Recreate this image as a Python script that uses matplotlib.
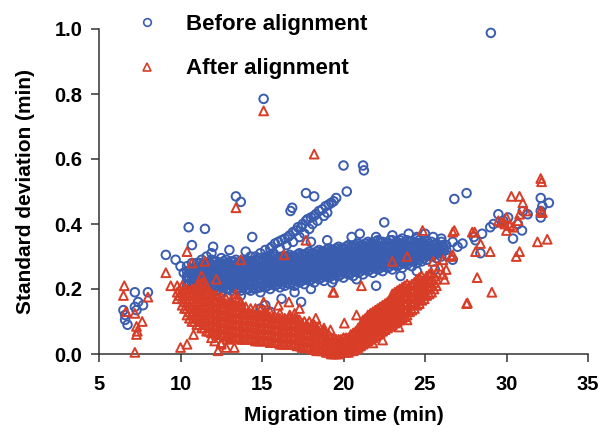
import matplotlib
matplotlib.use('Agg')
import matplotlib.pyplot as plt
from matplotlib.lines import Line2D

plt.rcParams['font.family'] = ['Liberation Sans', 'DejaVu Sans']
plt.rcParams['font.weight'] = 'bold'

blue = '#3a5db0'
red = '#d83d27'

# ---- before alignment: dense band, read column by column ----
before_band_x = [10.4, 10.7, 11.0, 11.3, 11.6, 11.9, 12.2, 12.5, 12.8, 13.1, 13.4, 13.7,
                 14.0, 14.3, 14.6, 14.9, 15.2, 15.5, 15.8, 16.1, 16.4, 16.7, 17.0, 17.3,
                 17.6, 17.9, 18.2, 18.5, 18.8, 19.1, 19.4, 19.7, 20.0, 20.3, 20.6, 20.9,
                 21.2, 21.5, 21.8, 22.1, 22.4, 22.7, 23.0, 23.3, 23.6, 23.9, 24.2, 24.5,
                 24.8, 25.1, 25.4, 25.7, 26.0, 26.3]
before_band_y = [
    [0.21, 0.225, 0.24, 0.255, 0.27],
    [0.20, 0.215, 0.23, 0.245, 0.26, 0.28],
    [0.19, 0.205, 0.22, 0.235, 0.25, 0.265, 0.28],
    [0.195, 0.21, 0.225, 0.24, 0.255, 0.27, 0.29],
    [0.19, 0.205, 0.22, 0.235, 0.25, 0.265, 0.28, 0.30],
    [0.20, 0.215, 0.23, 0.245, 0.26, 0.275, 0.29],
    [0.195, 0.21, 0.225, 0.24, 0.255, 0.27, 0.285],
    [0.19, 0.205, 0.22, 0.235, 0.25, 0.265, 0.28, 0.295],
    [0.20, 0.215, 0.23, 0.245, 0.26, 0.275, 0.29],
    [0.195, 0.21, 0.225, 0.24, 0.255, 0.27, 0.285],
    [0.20, 0.215, 0.23, 0.245, 0.26, 0.275, 0.29],
    [0.195, 0.21, 0.225, 0.24, 0.255, 0.27, 0.285],
    [0.20, 0.215, 0.23, 0.245, 0.26, 0.275, 0.29],
    [0.195, 0.21, 0.225, 0.24, 0.255, 0.27, 0.285, 0.30],
    [0.20, 0.215, 0.23, 0.245, 0.26, 0.275, 0.29],
    [0.19, 0.205, 0.22, 0.235, 0.25, 0.265, 0.28, 0.295],
    [0.205, 0.22, 0.235, 0.25, 0.265, 0.28, 0.295],
    [0.20, 0.215, 0.23, 0.245, 0.26, 0.275, 0.29],
    [0.21, 0.225, 0.24, 0.255, 0.27, 0.285, 0.30],
    [0.205, 0.22, 0.235, 0.25, 0.265, 0.28, 0.295],
    [0.21, 0.225, 0.24, 0.255, 0.27, 0.285, 0.30],
    [0.215, 0.23, 0.245, 0.26, 0.275, 0.29, 0.305],
    [0.21, 0.225, 0.24, 0.255, 0.27, 0.285, 0.30],
    [0.22, 0.235, 0.25, 0.265, 0.28, 0.295, 0.31],
    [0.215, 0.23, 0.245, 0.26, 0.275, 0.29, 0.305],
    [0.225, 0.24, 0.255, 0.27, 0.285, 0.30, 0.315],
    [0.22, 0.235, 0.25, 0.265, 0.28, 0.295, 0.31],
    [0.23, 0.245, 0.26, 0.275, 0.29, 0.305, 0.32],
    [0.225, 0.24, 0.255, 0.27, 0.285, 0.30, 0.315],
    [0.235, 0.25, 0.265, 0.28, 0.295, 0.31, 0.325],
    [0.23, 0.245, 0.26, 0.275, 0.29, 0.305, 0.32],
    [0.24, 0.255, 0.27, 0.285, 0.30, 0.315, 0.33],
    [0.235, 0.25, 0.265, 0.28, 0.295, 0.31, 0.325],
    [0.245, 0.26, 0.275, 0.29, 0.305, 0.32, 0.335],
    [0.24, 0.255, 0.27, 0.285, 0.30, 0.315, 0.33],
    [0.25, 0.265, 0.28, 0.295, 0.31, 0.325, 0.34],
    [0.245, 0.26, 0.275, 0.29, 0.305, 0.32, 0.335],
    [0.255, 0.27, 0.285, 0.30, 0.315, 0.33, 0.345],
    [0.25, 0.265, 0.28, 0.295, 0.31, 0.325, 0.34],
    [0.26, 0.275, 0.29, 0.305, 0.32, 0.335, 0.35],
    [0.255, 0.27, 0.285, 0.30, 0.315, 0.33, 0.345],
    [0.265, 0.28, 0.295, 0.31, 0.325, 0.34],
    [0.26, 0.275, 0.29, 0.305, 0.32, 0.335, 0.35],
    [0.27, 0.285, 0.30, 0.315, 0.33, 0.345],
    [0.265, 0.28, 0.295, 0.31, 0.325, 0.34, 0.355],
    [0.275, 0.29, 0.305, 0.32, 0.335, 0.35],
    [0.27, 0.285, 0.30, 0.315, 0.33, 0.345],
    [0.28, 0.295, 0.31, 0.325, 0.34, 0.355],
    [0.285, 0.30, 0.315, 0.33, 0.345],
    [0.29, 0.305, 0.32, 0.335, 0.35],
    [0.30, 0.315, 0.33, 0.345],
    [0.295, 0.31, 0.325, 0.34],
    [0.30, 0.315, 0.33, 0.345],
    [0.305, 0.32, 0.335],
]

# in-between columns of the same band
before_fill_x = [10.55, 10.85, 11.15, 11.45, 11.75, 12.05, 12.35, 12.65, 12.95, 13.25, 13.55,
                 13.85, 14.15, 14.45, 14.75, 15.05, 15.35, 15.65, 15.95, 16.25, 16.55, 16.85,
                 17.15, 17.45, 17.75, 18.05, 18.35, 18.65, 18.95, 19.25, 19.55, 19.85, 20.15,
                 20.45, 20.75, 21.05, 21.35, 21.65, 21.95, 22.25, 22.55, 22.85, 23.15, 23.45,
                 23.75, 24.05, 24.35, 24.65, 24.95, 25.25, 25.55, 25.85]
before_fill_y = [
    [0.215, 0.235, 0.255],
    [0.205, 0.225, 0.245, 0.265],
    [0.20, 0.22, 0.24, 0.26, 0.28],
    [0.20, 0.22, 0.24, 0.26, 0.28],
    [0.20, 0.22, 0.24, 0.26, 0.28],
    [0.205, 0.225, 0.245, 0.265, 0.285],
    [0.20, 0.22, 0.24, 0.26, 0.28],
    [0.205, 0.225, 0.245, 0.265, 0.285],
    [0.20, 0.22, 0.24, 0.26, 0.28],
    [0.205, 0.225, 0.245, 0.265, 0.285],
    [0.20, 0.22, 0.24, 0.26, 0.28],
    [0.205, 0.225, 0.245, 0.265, 0.285],
    [0.20, 0.22, 0.24, 0.26, 0.28],
    [0.205, 0.225, 0.245, 0.265, 0.285],
    [0.205, 0.225, 0.245, 0.265, 0.285],
    [0.21, 0.23, 0.25, 0.27, 0.29],
    [0.21, 0.23, 0.25, 0.27, 0.29],
    [0.215, 0.235, 0.255, 0.275, 0.295],
    [0.215, 0.235, 0.255, 0.275, 0.295],
    [0.215, 0.235, 0.255, 0.275, 0.295],
    [0.22, 0.24, 0.26, 0.28, 0.30],
    [0.22, 0.24, 0.26, 0.28, 0.30],
    [0.225, 0.245, 0.265, 0.285, 0.305],
    [0.225, 0.245, 0.265, 0.285, 0.305],
    [0.23, 0.25, 0.27, 0.29, 0.31],
    [0.23, 0.25, 0.27, 0.29, 0.31],
    [0.235, 0.255, 0.275, 0.295, 0.315],
    [0.235, 0.255, 0.275, 0.295, 0.315],
    [0.24, 0.26, 0.28, 0.30, 0.32],
    [0.24, 0.26, 0.28, 0.30, 0.32],
    [0.245, 0.265, 0.285, 0.305, 0.325],
    [0.245, 0.265, 0.285, 0.305, 0.325],
    [0.25, 0.27, 0.29, 0.31, 0.33],
    [0.25, 0.27, 0.29, 0.31, 0.33],
    [0.255, 0.275, 0.295, 0.315, 0.335],
    [0.255, 0.275, 0.295, 0.315, 0.335],
    [0.26, 0.28, 0.30, 0.32, 0.34],
    [0.26, 0.28, 0.30, 0.32, 0.34],
    [0.265, 0.285, 0.305, 0.325, 0.345],
    [0.265, 0.285, 0.305, 0.325, 0.345],
    [0.27, 0.29, 0.31, 0.33],
    [0.27, 0.29, 0.31, 0.33, 0.35],
    [0.275, 0.295, 0.315, 0.335],
    [0.275, 0.295, 0.315, 0.335, 0.35],
    [0.28, 0.30, 0.32, 0.34],
    [0.285, 0.305, 0.325, 0.345],
    [0.285, 0.305, 0.325, 0.345],
    [0.29, 0.31, 0.33, 0.35],
    [0.295, 0.315, 0.335],
    [0.305, 0.325, 0.34],
    [0.305, 0.32, 0.335],
    [0.31, 0.325],
]

# the steep arm between 15 and 19.5 min
before_arm_x = [14.6, 14.9, 15.2, 15.5, 15.6, 15.8, 16.0, 16.2, 16.4, 16.6, 16.7, 16.9, 17.1, 17.2,
                17.4, 17.5, 17.7, 17.8, 18.0, 18.2, 18.3, 18.5, 18.7, 18.9, 19.1, 19.25, 19.4, 19.55,
                15.3, 15.7, 16.1, 16.5, 16.9, 17.3, 17.6, 17.9, 18.1, 18.4, 18.8, 19.0]
before_arm_y = [0.30, 0.31, 0.32, 0.325, 0.33, 0.34, 0.345, 0.35, 0.355, 0.36, 0.365, 0.375, 0.38, 0.39,
                0.39, 0.40, 0.41, 0.415, 0.42, 0.425, 0.43, 0.44, 0.445, 0.455, 0.46, 0.465, 0.47, 0.48,
                0.30, 0.31, 0.325, 0.335, 0.345, 0.36, 0.37, 0.385, 0.40, 0.41, 0.425, 0.435]

# scattered points
before_x = [29.04, 15.1, 20.0, 21.2, 21.25, 20.2, 17.7, 18.2, 13.4, 13.7, 26.8, 27.55, 22.5, 21.0,
            11.5, 10.5, 10.7, 9.1, 14.4, 11.9, 9.7, 10.0, 10.2, 10.4, 10.8, 11.6, 16.85, 16.75,
            20.8, 19.3,
            7.2, 8.0, 7.4, 7.7, 6.5, 6.6, 6.75, 7.2, 7.3, 6.6,
            29.5, 29.8, 30.1, 31.3, 30.7, 30.95, 30.4, 29.0, 28.5, 28.1, 32.1, 32.6, 32.1, 32.1,
            26.7, 26.1, 26.15, 26.7, 28.4, 27.0, 27.3, 28.0, 29.2, 31.0, 32.2,
            14.9, 15.5, 15.2, 16.2, 17.4, 18.0, 22.0, 13.7, 12.9, 23.5, 24.5, 25.6, 17.0,
            12.0, 13.0, 14.0, 20.5, 22.0, 23.0, 24.0, 25.0, 24.5, 25.5, 26.0, 18.0, 19.0]
before_y = [0.988, 0.785, 0.58, 0.58, 0.565, 0.50, 0.495, 0.485, 0.485, 0.468, 0.477, 0.495, 0.405, 0.37,
            0.385, 0.39, 0.335, 0.305, 0.36, 0.31, 0.29, 0.27, 0.25, 0.235, 0.21, 0.27, 0.45, 0.44,
            0.23, 0.22,
            0.19, 0.19, 0.16, 0.15, 0.135, 0.105, 0.09, 0.145, 0.135, 0.12,
            0.43, 0.41, 0.42, 0.43, 0.40, 0.38, 0.355, 0.39, 0.37, 0.35, 0.48, 0.465, 0.42, 0.44,
            0.345, 0.335, 0.32, 0.29, 0.31, 0.33, 0.34, 0.36, 0.40, 0.44, 0.455,
            0.14, 0.13, 0.15, 0.17, 0.16, 0.20, 0.21, 0.18, 0.175, 0.24, 0.255, 0.26, 0.19,
            0.33, 0.32, 0.315, 0.36, 0.36, 0.365, 0.37, 0.37, 0.36, 0.36, 0.355, 0.345, 0.35]

# ---- after alignment: dense V-shaped band ----
after_band_x = [9.8, 10.1, 10.4, 10.7, 11.0, 11.3, 11.6, 11.9, 12.2, 12.5, 12.8, 13.1, 13.4, 13.7,
                14.0, 14.3, 14.6, 14.9, 15.2, 15.5, 15.8, 16.1, 16.4, 16.7, 17.0, 17.3, 17.6, 17.9,
                18.2, 18.5, 18.8, 19.1, 19.4, 19.7, 20.0, 20.3, 20.6, 20.9, 21.2, 21.5, 21.8, 22.1,
                22.4, 22.7, 23.0, 23.3, 23.6, 23.9, 24.2, 24.5, 24.8, 25.1, 25.4, 25.7]
after_band_y = [
    [0.17, 0.19, 0.21],
    [0.15, 0.17, 0.19, 0.21],
    [0.12, 0.14, 0.16, 0.18, 0.20],
    [0.10, 0.12, 0.14, 0.16, 0.18, 0.20],
    [0.09, 0.11, 0.13, 0.15, 0.17, 0.19, 0.21],
    [0.08, 0.10, 0.12, 0.14, 0.16, 0.18, 0.20, 0.22, 0.24],
    [0.07, 0.09, 0.11, 0.13, 0.15, 0.17, 0.19, 0.21],
    [0.065, 0.085, 0.105, 0.125, 0.145, 0.165, 0.185],
    [0.06, 0.08, 0.10, 0.12, 0.14, 0.16, 0.18],
    [0.06, 0.08, 0.10, 0.12, 0.14, 0.16, 0.175],
    [0.055, 0.075, 0.095, 0.115, 0.135, 0.155, 0.17],
    [0.05, 0.07, 0.09, 0.11, 0.13, 0.15, 0.165],
    [0.05, 0.07, 0.09, 0.11, 0.13, 0.15, 0.17, 0.185],
    [0.045, 0.065, 0.085, 0.105, 0.125, 0.145, 0.16],
    [0.045, 0.065, 0.085, 0.105, 0.125, 0.145],
    [0.045, 0.065, 0.085, 0.105, 0.125, 0.14],
    [0.04, 0.06, 0.08, 0.10, 0.12, 0.14],
    [0.04, 0.06, 0.08, 0.10, 0.12, 0.135],
    [0.04, 0.06, 0.08, 0.10, 0.12, 0.13],
    [0.035, 0.055, 0.075, 0.095, 0.115, 0.13],
    [0.035, 0.055, 0.075, 0.095, 0.115],
    [0.03, 0.05, 0.07, 0.09, 0.11, 0.125],
    [0.03, 0.05, 0.07, 0.09, 0.11],
    [0.03, 0.05, 0.07, 0.09, 0.11, 0.12],
    [0.03, 0.05, 0.07, 0.09, 0.11, 0.125],
    [0.025, 0.045, 0.065, 0.085, 0.105],
    [0.02, 0.04, 0.06, 0.08, 0.10],
    [0.02, 0.04, 0.06, 0.08, 0.10],
    [0.015, 0.035, 0.055, 0.075, 0.09],
    [0.01, 0.03, 0.05, 0.07, 0.085],
    [0.01, 0.025, 0.045, 0.065, 0.08],
    [0.005, 0.02, 0.04, 0.06],
    [0.0, 0.015, 0.035, 0.05],
    [0.0, 0.015, 0.03, 0.045],
    [0.005, 0.02, 0.035, 0.05],
    [0.005, 0.02, 0.035, 0.05],
    [0.01, 0.025, 0.045, 0.065],
    [0.02, 0.04, 0.06, 0.08],
    [0.03, 0.05, 0.07, 0.09, 0.105],
    [0.04, 0.06, 0.08, 0.10, 0.12],
    [0.05, 0.07, 0.09, 0.11, 0.13],
    [0.06, 0.08, 0.10, 0.12, 0.14],
    [0.07, 0.09, 0.11, 0.13, 0.15],
    [0.08, 0.10, 0.12, 0.14, 0.16],
    [0.09, 0.11, 0.13, 0.15, 0.17, 0.185],
    [0.10, 0.12, 0.14, 0.16, 0.18, 0.195],
    [0.11, 0.13, 0.15, 0.17, 0.19, 0.205],
    [0.12, 0.14, 0.16, 0.18, 0.20, 0.215],
    [0.135, 0.155, 0.175, 0.195, 0.215],
    [0.15, 0.17, 0.19, 0.21, 0.23],
    [0.165, 0.185, 0.205, 0.225, 0.24],
    [0.18, 0.20, 0.22, 0.24],
    [0.19, 0.21, 0.23, 0.25],
    [0.21, 0.23, 0.25],
]

after_fill_x = [9.95, 10.25, 10.55, 10.85, 11.15, 11.45, 11.75, 12.05, 12.35, 12.65, 12.95, 13.25,
                13.55, 13.85, 14.15, 14.45, 14.75, 15.05, 15.35, 15.65, 15.95, 16.25, 16.55, 16.85,
                17.15, 17.45, 17.75, 18.05, 18.35, 18.65, 18.95, 19.25, 19.55, 19.85, 20.15, 20.45,
                20.75, 21.05, 21.35, 21.65, 21.95, 22.25, 22.55, 22.85, 23.15, 23.45, 23.75, 24.05,
                24.35, 24.65, 24.95, 25.25, 25.55]
after_fill_y = [
    [0.18, 0.20],
    [0.14, 0.16, 0.18, 0.20],
    [0.11, 0.13, 0.15, 0.17, 0.19],
    [0.10, 0.12, 0.14, 0.16, 0.18, 0.20],
    [0.09, 0.11, 0.13, 0.15, 0.17, 0.19, 0.21],
    [0.08, 0.10, 0.12, 0.14, 0.16, 0.18, 0.20, 0.22],
    [0.07, 0.09, 0.11, 0.13, 0.15, 0.17, 0.19],
    [0.065, 0.085, 0.105, 0.125, 0.145, 0.165, 0.18],
    [0.06, 0.08, 0.10, 0.12, 0.14, 0.16],
    [0.06, 0.08, 0.10, 0.12, 0.14, 0.16],
    [0.055, 0.075, 0.095, 0.115, 0.135, 0.155],
    [0.05, 0.07, 0.09, 0.11, 0.13, 0.15],
    [0.05, 0.07, 0.09, 0.11, 0.13, 0.15, 0.17],
    [0.045, 0.065, 0.085, 0.105, 0.125, 0.14],
    [0.045, 0.065, 0.085, 0.105, 0.125],
    [0.045, 0.065, 0.085, 0.105, 0.125],
    [0.04, 0.06, 0.08, 0.10, 0.12],
    [0.04, 0.06, 0.08, 0.10, 0.12],
    [0.04, 0.06, 0.08, 0.10, 0.115],
    [0.035, 0.055, 0.075, 0.095, 0.11],
    [0.035, 0.055, 0.075, 0.095, 0.11],
    [0.03, 0.05, 0.07, 0.09, 0.105],
    [0.03, 0.05, 0.07, 0.09, 0.105],
    [0.03, 0.05, 0.07, 0.09, 0.11],
    [0.025, 0.045, 0.065, 0.085, 0.105],
    [0.02, 0.04, 0.06, 0.08, 0.095],
    [0.02, 0.04, 0.06, 0.08, 0.09],
    [0.015, 0.035, 0.055, 0.075, 0.09],
    [0.01, 0.03, 0.05, 0.07, 0.08],
    [0.01, 0.025, 0.045, 0.065],
    [0.005, 0.02, 0.04, 0.055],
    [0.0, 0.015, 0.035, 0.05],
    [0.0, 0.015, 0.03, 0.045],
    [0.005, 0.02, 0.035, 0.045],
    [0.005, 0.02, 0.035, 0.05],
    [0.01, 0.025, 0.045, 0.06],
    [0.015, 0.035, 0.055, 0.07],
    [0.025, 0.045, 0.065, 0.085],
    [0.035, 0.055, 0.075, 0.095, 0.11],
    [0.045, 0.065, 0.085, 0.105, 0.125],
    [0.055, 0.075, 0.095, 0.115, 0.135],
    [0.065, 0.085, 0.105, 0.125, 0.145],
    [0.075, 0.095, 0.115, 0.135, 0.155],
    [0.085, 0.105, 0.125, 0.145, 0.165],
    [0.095, 0.115, 0.135, 0.155, 0.175, 0.19],
    [0.105, 0.125, 0.145, 0.165, 0.185, 0.20],
    [0.115, 0.135, 0.155, 0.175, 0.195, 0.21],
    [0.13, 0.15, 0.17, 0.19, 0.21],
    [0.14, 0.16, 0.18, 0.20, 0.22],
    [0.155, 0.175, 0.195, 0.215, 0.235],
    [0.17, 0.19, 0.21, 0.23],
    [0.185, 0.205, 0.225, 0.245],
    [0.20, 0.22, 0.24],
]

after_x = [6.55, 6.5, 6.65, 7.2, 7.3, 7.3, 7.35, 7.65, 8.0, 7.2, 9.1, 9.4, 10.4, 10.7, 11.5,
           13.4, 15.1, 18.2, 17.7, 16.35, 13.7, 12.2, 15.1, 16.0, 16.65, 17.3, 18.3, 19.4, 20.8,
           20.05, 18.8, 19.2, 21.1, 19.35, 23.0, 23.9, 24.85, 26.8, 26.6, 27.55, 23.9, 23.4, 21.8,
           22.4, 10.0, 10.4, 12.3, 12.5, 10.8, 12.5, 12.8, 13.3, 12.5, 11.9, 12.1, 13.0,
           26.7, 27.9, 28.2, 27.6, 29.1, 30.3, 30.8, 31.0, 32.1, 32.15, 32.1, 32.2, 30.0, 29.7,
           30.0, 30.8, 30.7, 29.5, 31.9, 32.5, 30.8, 30.6, 28.05, 28.4, 29.0, 28.1, 26.7, 26.1,
           26.1, 26.2, 29.9, 30.2, 30.4, 31.2, 25.9, 26.3, 25.5]
after_y = [0.21, 0.18, 0.13, 0.125, 0.085, 0.06, 0.07, 0.10, 0.175, 0.005, 0.25, 0.21, 0.315, 0.28, 0.285,
           0.45, 0.748, 0.615, 0.35, 0.305, 0.29, 0.23, 0.16, 0.15, 0.16, 0.14, 0.11, 0.19, 0.12,
           0.095, 0.074, 0.074, 0.21, 0.19, 0.285, 0.30, 0.38, 0.38, 0.30, 0.155, 0.105, 0.083, 0.034,
           0.043, 0.02, 0.03, 0.01, 0.03, 0.06, 0.035, 0.02, 0.02, 0.06, 0.05, 0.04, 0.045,
           0.375, 0.375, 0.235, 0.157, 0.19, 0.485, 0.485, 0.465, 0.54, 0.53, 0.44, 0.435, 0.42, 0.405,
           0.38, 0.43, 0.41, 0.41, 0.345, 0.353, 0.315, 0.30, 0.375, 0.34, 0.315, 0.315, 0.305, 0.29,
           0.245, 0.23, 0.40, 0.395, 0.39, 0.44, 0.27, 0.26, 0.285]


def flatten(cols, vals):
    xs, ys = [], []
    for x, col in zip(cols, vals):
        xs += [x] * len(col)
        ys += col
    return xs, ys


bx, by = flatten(before_band_x, before_band_y)
fx, fy = flatten(before_fill_x, before_fill_y)
bx += fx + before_arm_x + before_x
by += fy + before_arm_y + before_y
rx, ry = flatten(after_band_x, after_band_y)
fx, fy = flatten(after_fill_x, after_fill_y)
rx += fx + after_x
ry += fy + after_y

fig = plt.figure(figsize=(6.01, 4.33), dpi=100)
ax = fig.add_axes([99 / 601, 79 / 433, 489 / 601, 325 / 433])

ax.scatter(bx, by, s=38, marker='o', facecolors='none', edgecolors=blue,
           linewidths=1.4, clip_on=False, zorder=2)
ax.scatter(rx, ry, s=40, marker='^', facecolors='none', edgecolors=red,
           linewidths=1.4, clip_on=False, zorder=3)

ax.set_xlim(5, 35)
ax.set_ylim(0, 1.0)
ax.set_xticks([5, 10, 15, 20, 25, 30, 35])
ax.set_yticks([0.0, 0.2, 0.4, 0.6, 0.8, 1.0])
ax.set_yticklabels(['0.0', '0.2', '0.4', '0.6', '0.8', '1.0'])
for s in ['top', 'right']:
    ax.spines[s].set_visible(False)
for s in ['left', 'bottom']:
    ax.spines[s].set_linewidth(1.1)
    ax.spines[s].set_color('#333333')
ax.tick_params(axis='both', length=6, width=1.1, color='#333333', labelsize=14.5)
ax.tick_params(axis='x', pad=9)
ax.tick_params(axis='y', pad=6)

ax.set_xlabel('Migration time (min)', fontsize=15, fontweight='bold', labelpad=9)
ax.set_ylabel('Standard deviation (min)', fontsize=15, fontweight='bold', labelpad=14)

handles = [
    Line2D([], [], linestyle='none', marker='o', markersize=5.5, markerfacecolor='none',
           markeredgecolor=blue, markeredgewidth=1.2),
    Line2D([], [], linestyle='none', marker='^', markersize=5.5, markerfacecolor='none',
           markeredgecolor=red, markeredgewidth=1.2),
]
fig.legend(handles, ['Before alignment', 'After alignment'], loc='upper left',
           bbox_to_anchor=(136 / 601, 1 - 14 / 433), frameon=False, fontsize=16,
           handlelength=1.0, handletextpad=1.25, labelspacing=1.05, borderpad=0,
           borderaxespad=0)

fig.savefig('out.png', dpi=100)
